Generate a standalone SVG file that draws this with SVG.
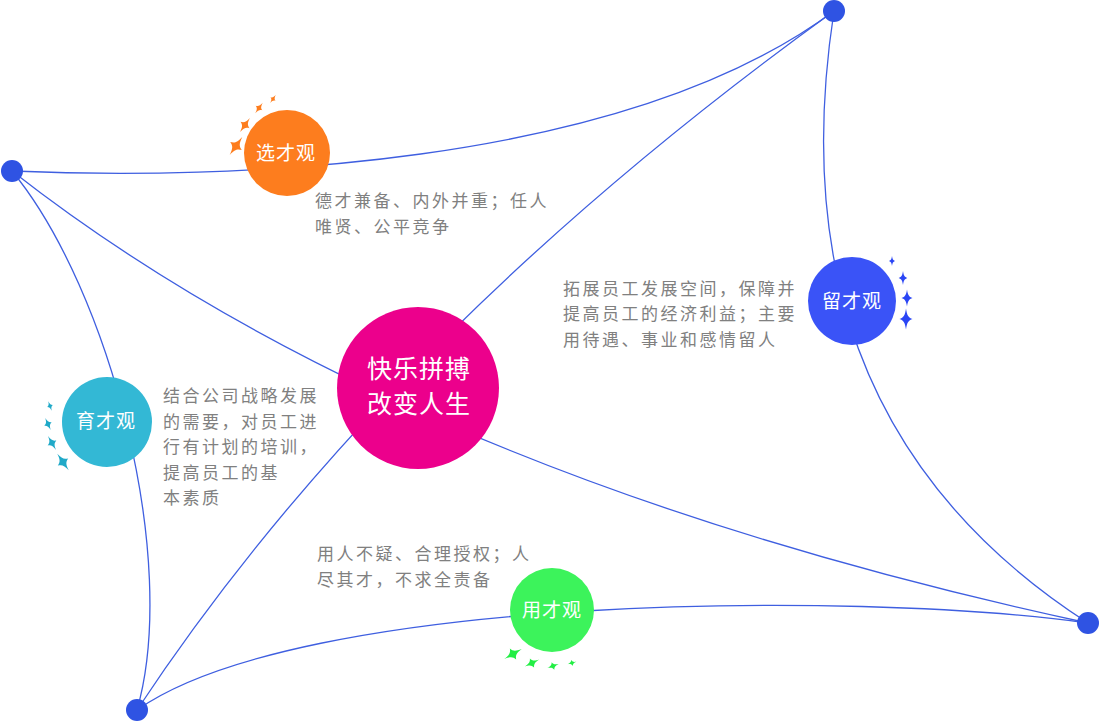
<svg xmlns="http://www.w3.org/2000/svg" width="1100" height="721" viewBox="0 0 1100 721">
<defs>
<style>
.edge{fill:none;stroke:#3f5fe0;stroke-width:1.3}
.dot{fill:#2f53e3}
.lbl{font-family:"Noto Sans CJK SC","Liberation Sans",sans-serif;fill:#fff;text-anchor:middle}
.desc{font-family:"Noto Sans CJK SC","Liberation Sans",sans-serif;fill:#808080;font-size:17px;letter-spacing:2.5px}
</style>
<path id="star" d="M0,-1 C0.15,-0.35 0.35,-0.15 1,0 C0.35,0.15 0.15,0.35 0,1 C-0.15,0.35 -0.35,0.15 -1,0 C-0.35,-0.15 -0.15,-0.35 0,-1Z"/>
</defs>
<rect width="1100" height="721" fill="#fff"/>
<g id="connectors">
<path class="edge" d="M12,171 C220,180 620,170 834,11"/>
<path class="edge" d="M834,11 C805,200 820,450 1088,623"/>
<path class="edge" d="M1088,623 C850,590 300,595 137,710"/>
<path class="edge" d="M137,710 C180,560 110,290 12,171"/>
<path class="edge" d="M12,171 Q400,475 1088,623"/>
<path class="edge" d="M137,710 Q385,335 834,11"/>
</g>
<g id="corner-tl"><circle class="dot" cx="12" cy="171" r="11"/></g>
<g id="corner-tr"><circle class="dot" cx="834" cy="11" r="11"/></g>
<g id="corner-br"><circle class="dot" cx="1088" cy="623" r="11"/></g>
<g id="corner-bl"><circle class="dot" cx="137" cy="710" r="11"/></g>
<g id="center">
<circle cx="418" cy="388" r="81" fill="#ec008c"/>
<text class="lbl" x="419" y="378" font-size="25" letter-spacing="1">快乐拼搏</text>
<text class="lbl" x="419" y="413" font-size="25" letter-spacing="1">改变人生</text>
</g>
<g id="xuancai">
<circle cx="287" cy="153" r="43" fill="#fd7d1e"/>
<text class="lbl" x="286" y="160" font-size="19" letter-spacing="1">选才观</text>
<g fill="#fd7d1e">
<use href="#star" transform="translate(236,146) rotate(35) scale(7,11)"/>
<use href="#star" transform="translate(245,125) rotate(35) scale(5.5,8.5)"/>
<use href="#star" transform="translate(259,108) rotate(35) scale(4,6.5)"/>
<use href="#star" transform="translate(273,99) rotate(35) scale(3,4.8)"/>
</g>
<text class="desc" x="315" y="206.5">德才兼备、内外并重；任人</text>
<text class="desc" x="315" y="233">唯贤、公平竞争</text>
</g>
<g id="liucai">
<circle cx="852" cy="301" r="44" fill="#3a53f7"/>
<text class="lbl" x="852" y="308" font-size="19" letter-spacing="1">留才观</text>
<g fill="#2a45f5">
<use href="#star" transform="translate(892,261) scale(3,5)"/>
<use href="#star" transform="translate(903,278) scale(4.3,7)"/>
<use href="#star" transform="translate(907,298) scale(5.5,8.5)"/>
<use href="#star" transform="translate(906,319) scale(6.5,10.5)"/>
</g>
<text class="desc" x="563" y="294.5">拓展员工发展空间，保障并</text>
<text class="desc" x="563" y="320">提高员工的经济利益；主要</text>
<text class="desc" x="563" y="345.5">用待遇、事业和感情留人</text>
</g>
<g id="yucai">
<circle cx="107" cy="422" r="45" fill="#33b8d5"/>
<text class="lbl" x="106" y="428" font-size="19" letter-spacing="1">育才观</text>
<g fill="#1fa9c8">
<use href="#star" transform="translate(50,406) rotate(-20) scale(3,5)"/>
<use href="#star" transform="translate(48,424) rotate(-25) scale(4,6.5)"/>
<use href="#star" transform="translate(52,443) rotate(-30) scale(5,8)"/>
<use href="#star" transform="translate(63,462) rotate(-35) scale(6.3,10)"/>
</g>
<text class="desc" x="163" y="401.5">结合公司战略发展</text>
<text class="desc" x="163" y="427.5">的需要，对员工进</text>
<text class="desc" x="163" y="453">行有计划的培训，</text>
<text class="desc" x="163" y="478.5">提高员工的基</text>
<text class="desc" x="163" y="504">本素质</text>
</g>
<g id="yongcai">
<circle cx="552" cy="610" r="42" fill="#3cf35b"/>
<text class="lbl" x="552" y="617" font-size="19" letter-spacing="1">用才观</text>
<g fill="#22ee44">
<use href="#star" transform="translate(513,654) rotate(60) scale(6.3,10)"/>
<use href="#star" transform="translate(532,663) rotate(65) scale(5,8)"/>
<use href="#star" transform="translate(553,666) rotate(70) scale(4,6)"/>
<use href="#star" transform="translate(572,663) rotate(75) scale(3,4.5)"/>
</g>
<text class="desc" x="317" y="559.5">用人不疑、合理授权；人</text>
<text class="desc" x="317" y="585.5">尽其才，不求全责备</text>
</g>
</svg>
